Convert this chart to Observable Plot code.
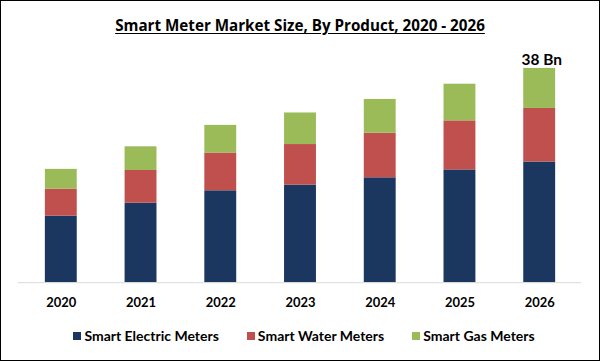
<!DOCTYPE html>
<html>
<head>
<meta charset="utf-8">
<script src="https://cdn.jsdelivr.net/npm/d3@7"></script>
<script src="https://cdn.jsdelivr.net/npm/@observablehq/plot@0.6"></script>
<style>
  html, body { margin: 0; padding: 0; background: #fff; }
  #frame { position: relative; width: 600px; height: 361px; box-sizing: border-box; border: 1px solid #000; overflow: hidden; font-family: Lato, "Open Sans", sans-serif; }
  #title { position: absolute; left: 0; right: 0; top: 17px; text-align: center; font-family: "Open Sans", sans-serif; font-size: 15.2px; line-height: 14px; font-weight: 700; color: #000; }
  #title span { text-decoration: underline; text-underline-offset: 2px; }
  #chart { position: absolute; left: -1px; top: 44px; }
  #legend { position: absolute; left: 0; right: 0; top: 328px; display: flex; justify-content: center; gap: 28px; font-size: 14px; line-height: 13px; font-weight: 700; color: #000; padding-left: 8px; }
  .item { display: flex; align-items: center; }
  .sw { width: 8px; height: 8px; margin-right: 3px; }
</style>
</head>
<body>
<div id="frame">
  <div id="title"><span>Smart Meter Market Size, By Product, 2020 - 2026</span></div>
  <div id="chart"></div>
  <div id="legend"></div>
</div>
<script>
const years = ["2020", "2021", "2022", "2023", "2024", "2025", "2026"];
const products = ["Smart Electric Meters", "Smart Water Meters", "Smart Gas Meters"];
const colors = ["#1b375f", "#c0504d", "#9bbb59"];
const electric = [11.8, 14.1, 16.3, 17.3, 18.6, 20.0, 21.4];
const water = [4.8, 5.8, 6.7, 7.2, 7.9, 8.7, 9.5];
const gas = [3.5, 4.2, 4.9, 5.6, 6.0, 6.5, 7.1];
const totalLabelYear = "2026";
const totalLabel = "38 Bn";

const series = [electric, water, gas];
const data = [];
years.forEach((yr, i) => {
  products.forEach((p, j) => data.push({year: yr, product: p, value: series[j][i]}));
});
const totals = years.map((yr, i) => ({year: yr, total: electric[i] + water[i] + gas[i]}));
const labelData = totals.filter(d => d.year === totalLabelYear).map(d => ({...d, label: totalLabel}));

const plot = Plot.plot({
  width: 601,
  height: 270,
  marginLeft: 18,
  marginRight: 18,
  marginTop: 23,
  marginBottom: 32,
  style: {fontFamily: "Lato, 'Open Sans', sans-serif", fontSize: "13px", fontWeight: "bold", color: "#000", background: "transparent"},
  x: {domain: years, padding: 0, label: null},
  y: {domain: [0, 38], axis: null},
  color: {domain: products, range: colors},
  marks: [
    Plot.barY(data, {x: "year", y: "value", fill: "product", insetLeft: 24, insetRight: 24}),
    Plot.ruleY([0], {stroke: "#d9d9d9", strokeWidth: 1}),
    Plot.axisX({tickSize: 0, tickPadding: 15, fontSize: 13, fontWeight: "bold", fill: "#000"}),
    Plot.text(labelData, {x: "year", y: "total", text: "label", dy: -3, dx: 2, lineAnchor: "bottom", fontSize: 15.5, fontWeight: "bold", fill: "#000"})
  ]
});
document.getElementById("chart").appendChild(plot);

const legend = document.getElementById("legend");
products.forEach((p, i) => {
  const item = document.createElement("div");
  item.className = "item";
  const sw = document.createElement("div");
  sw.className = "sw";
  sw.style.background = colors[i];
  const t = document.createElement("span");
  t.textContent = p;
  item.appendChild(sw);
  item.appendChild(t);
  legend.appendChild(item);
});
</script>
</body>
</html>
